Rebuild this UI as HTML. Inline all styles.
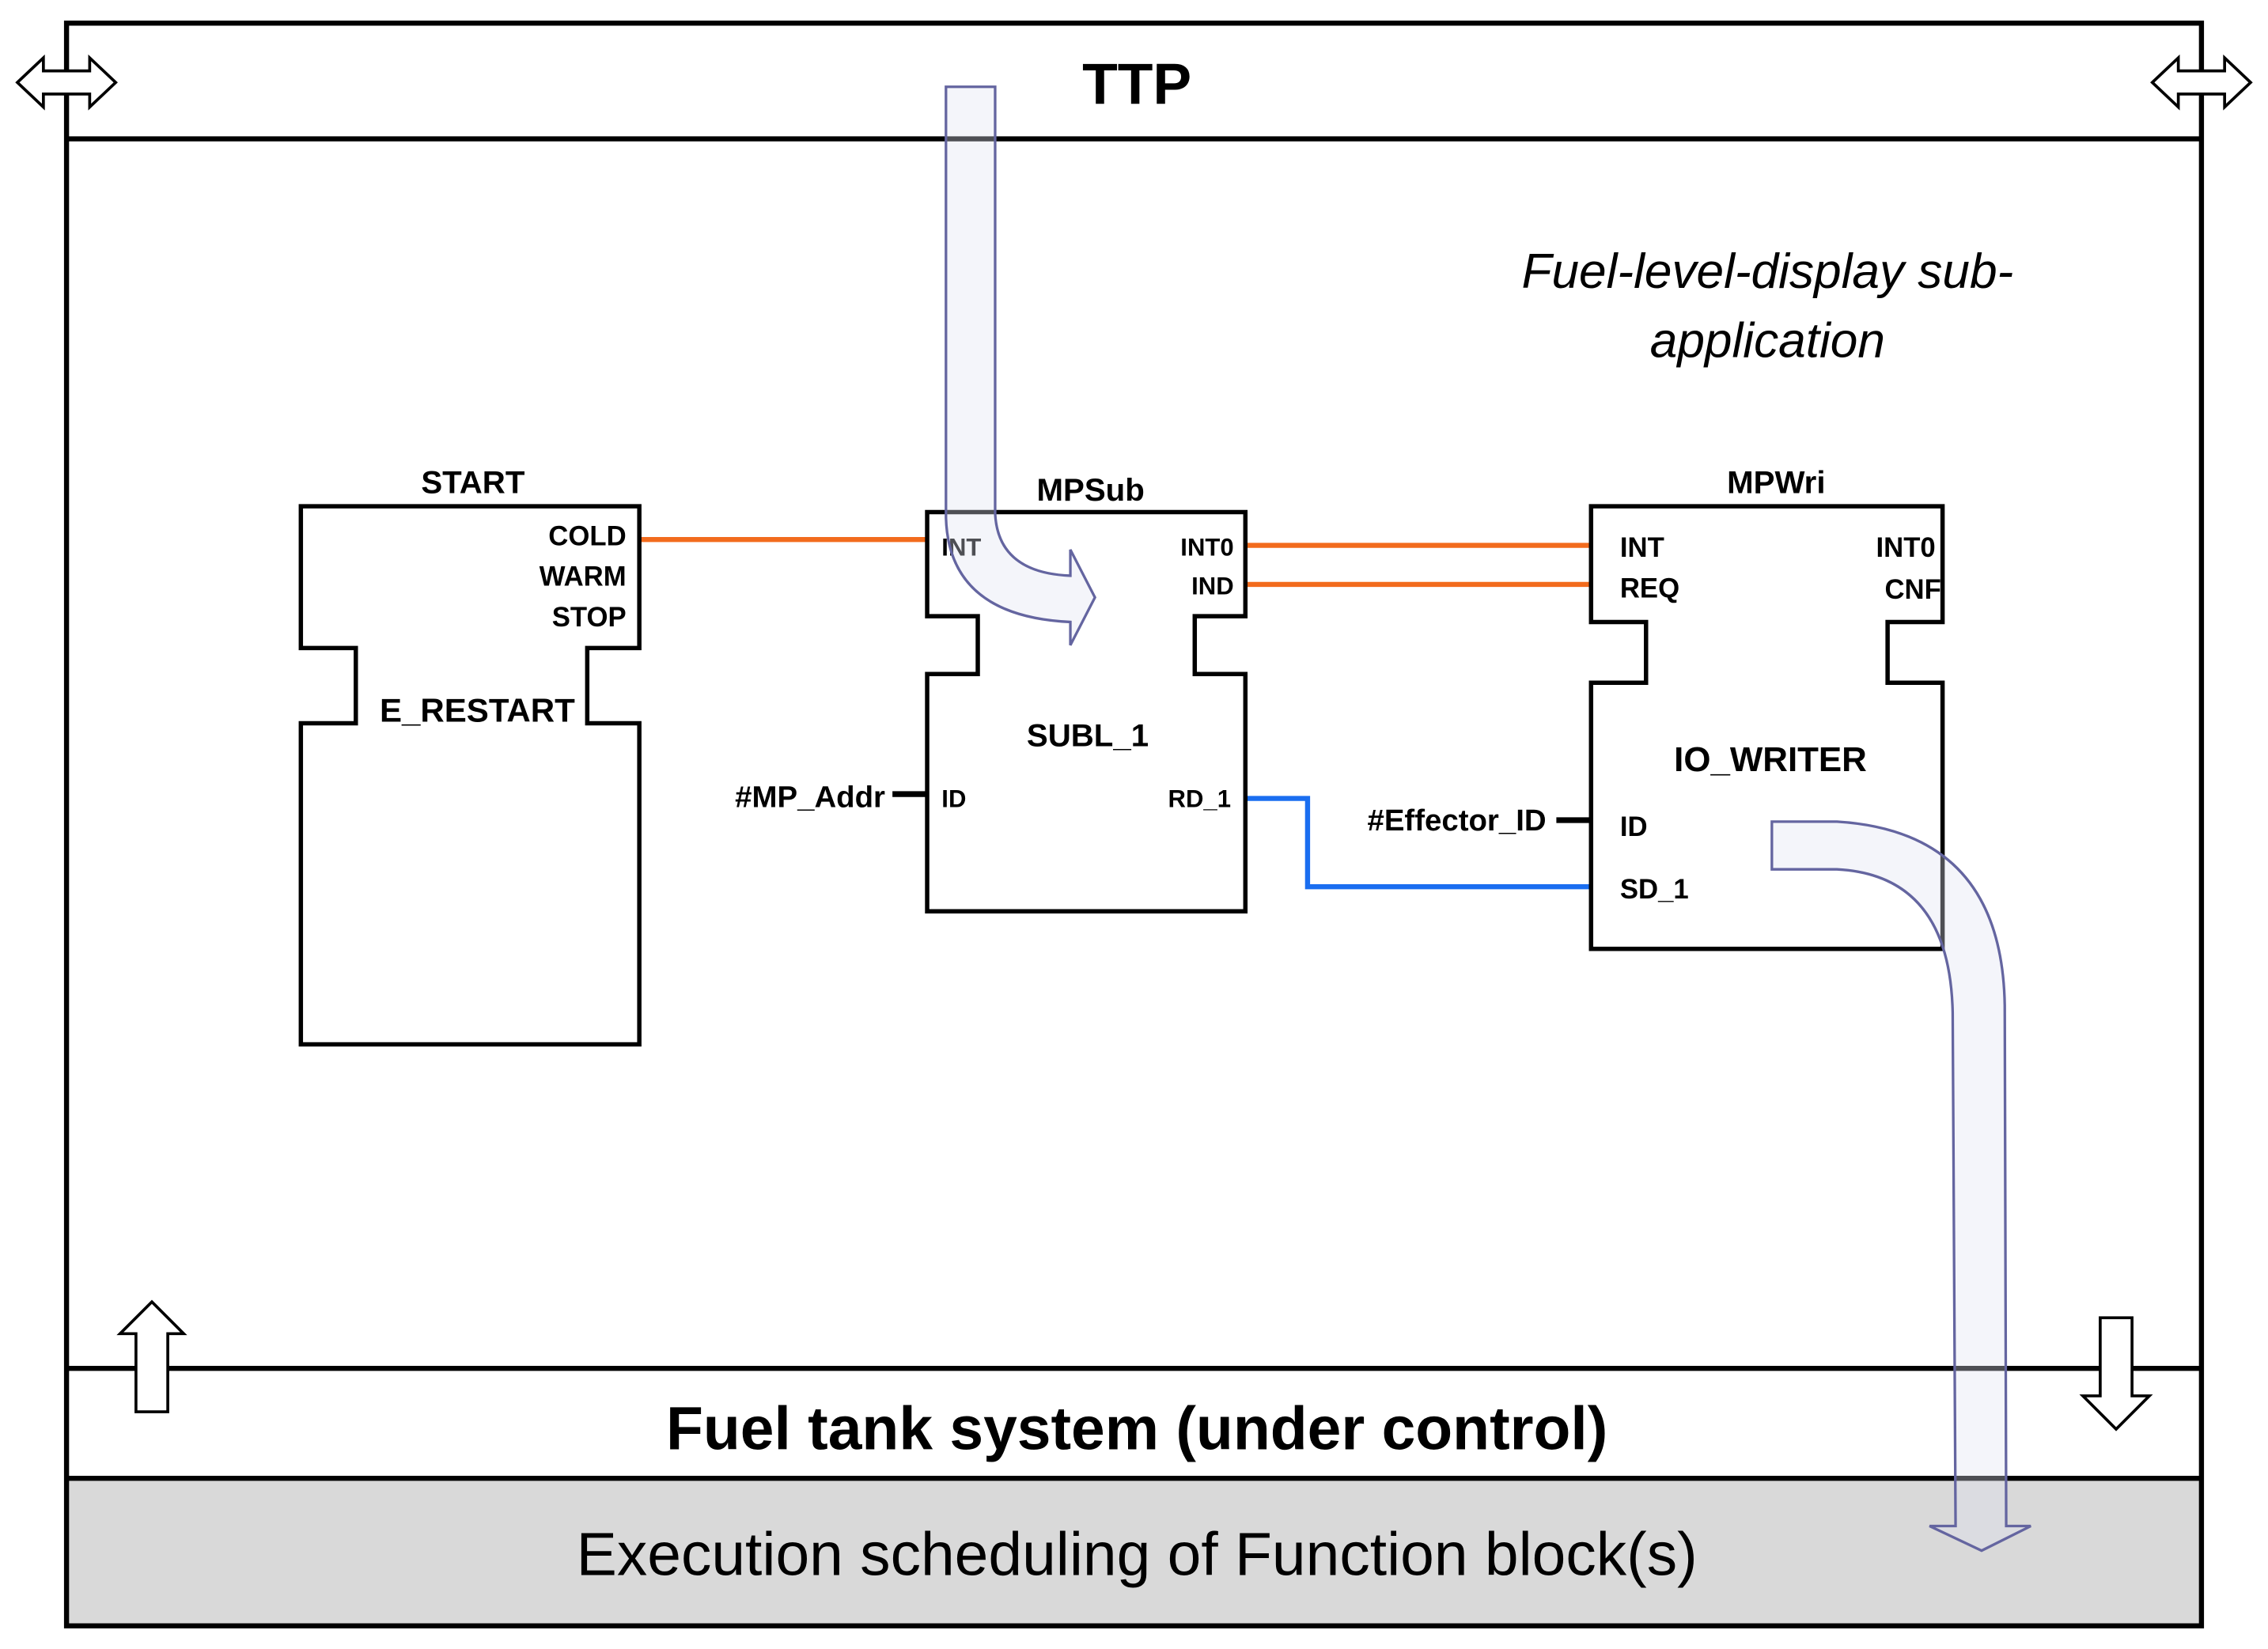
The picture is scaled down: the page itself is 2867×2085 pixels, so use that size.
<!DOCTYPE html>
<html><head><meta charset="utf-8"><style>
html,body{margin:0;padding:0;background:#fff}
svg{display:block}
text{font-family:"Liberation Sans",sans-serif;fill:#000}
</style></head><body>
<svg width="2867" height="2085" viewBox="0 0 1568 1140" preserveAspectRatio="none" xmlns="http://www.w3.org/2000/svg">
<rect x="46" y="1022" width="1476" height="102" fill="#d9d9d9"/>
<rect x="46" y="16" width="1476" height="1108" fill="none" stroke="#000" stroke-width="3.5"/>
<line x1="46" y1="96" x2="1522" y2="96" stroke="#000" stroke-width="3.5"/>
<line x1="46" y1="946" x2="1522" y2="946" stroke="#000" stroke-width="3.5"/>
<line x1="46" y1="1022" x2="1522" y2="1022" stroke="#000" stroke-width="3.5"/>
<!-- double arrows -->
<path d="M12,57 L30,40 L30,49 L62,49 L62,40 L80,57 L62,74 L62,65 L30,65 L30,74 Z" fill="#fff" stroke="#000" stroke-width="2"/>
<path d="M1488,57 L1506,40 L1506,49 L1538,49 L1538,40 L1556,57 L1538,74 L1538,65 L1506,65 L1506,74 Z" fill="#fff" stroke="#000" stroke-width="2"/>
<!-- up/down arrows -->
<path d="M105,900 L127,922 L116,922 L116,976 L94,976 L94,922 L83,922 Z" fill="#fff" stroke="#000" stroke-width="2"/>
<path d="M1452,911 L1474,911 L1474,965 L1486,965 L1463,988 L1440,965 L1452,965 Z" fill="#fff" stroke="#000" stroke-width="2"/>
<text x="786" y="72" font-size="40" font-weight="bold" text-anchor="middle">TTP</text>
<text x="1222" y="199" font-size="34" font-style="italic" text-anchor="middle">Fuel-level-display sub-</text>
<text x="1222" y="247" font-size="34" font-style="italic" text-anchor="middle">application</text>
<text x="786" y="1002" font-size="42" font-weight="bold" text-anchor="middle">Fuel tank system (under control)</text>
<text x="786" y="1089" font-size="42" text-anchor="middle">Execution scheduling of Function block(s)</text>
<!-- connections -->
<g stroke="#f26b1d" stroke-width="3.5" fill="none">
<line x1="442" y1="373" x2="641" y2="373"/>
<line x1="861" y1="377" x2="1100" y2="377"/>
<line x1="861" y1="404" x2="1100" y2="404"/>
</g>
<polyline points="861,552 904,552 904,613 1100,613" fill="none" stroke="#1a6ef0" stroke-width="3.5"/>
<line x1="617" y1="549" x2="641" y2="549" stroke="#000" stroke-width="4"/>
<line x1="1076" y1="567" x2="1100" y2="567" stroke="#000" stroke-width="4"/>
<!-- blocks -->
<g fill="none" stroke="#000" stroke-width="3">
<path d="M208,350 L442,350 L442,448 L406,448 L406,500 L442,500 L442,722 L208,722 L208,500 L246,500 L246,448 L208,448 Z"/>
<path d="M641,354 L861,354 L861,426 L826,426 L826,466 L861,466 L861,630 L641,630 L641,466 L676,466 L676,426 L641,426 Z"/>
<path d="M1100,350 L1343,350 L1343,430 L1305,430 L1305,472 L1343,472 L1343,656 L1100,656 L1100,472 L1138,472 L1138,430 L1100,430 Z"/>
</g>
<g font-weight="bold">
<text x="327" y="341" font-size="22" text-anchor="middle">START</text>
<text x="433" y="377" font-size="19" text-anchor="end">COLD</text>
<text x="433" y="405" font-size="19" text-anchor="end">WARM</text>
<text x="433" y="433" font-size="19" text-anchor="end">STOP</text>
<text x="330" y="499" font-size="23" text-anchor="middle">E_RESTART</text>
<text x="754" y="346" font-size="22" text-anchor="middle">MPSub</text>
<text x="651" y="384" font-size="17">INT</text>
<text x="853" y="384" font-size="17" text-anchor="end">INT0</text>
<text x="853" y="411" font-size="17" text-anchor="end">IND</text>
<text x="752" y="516" font-size="22" text-anchor="middle">SUBL_1</text>
<text x="651" y="558" font-size="17">ID</text>
<text x="851" y="558" font-size="17" text-anchor="end">RD_1</text>
<text x="612" y="558" font-size="21" text-anchor="end">#MP_Addr</text>
<text x="1228" y="341" font-size="22" text-anchor="middle">MPWri</text>
<text x="1120" y="385" font-size="19">INT</text>
<text x="1120" y="413" font-size="19">REQ</text>
<text x="1297" y="385" font-size="19">INT0</text>
<text x="1303" y="414" font-size="19">CNF</text>
<text x="1224" y="533" font-size="24" text-anchor="middle">IO_WRITER</text>
<text x="1120" y="578" font-size="19">ID</text>
<text x="1120" y="621" font-size="19">SD_1</text>
<text x="1069" y="574" font-size="21" text-anchor="end">#Effector_ID</text>
</g>
<!-- big flow arrows -->
<g fill="#dfe2f0" fill-opacity="0.35" stroke="#6465a0" stroke-width="1.8">
<path d="M654,60 L688,60 L688,355 Q690,396 740,398 L740,380 L757,413 L740,446 L740,430 Q656,426 654,358 Z"/>
<path d="M1225,568 L1270,568 Q1384,575 1386,695 L1387,1055 L1404,1055 L1370,1072 L1334,1055 L1352,1055 L1350,700 Q1348,605 1270,601 L1225,601 Z"/>
</g>
</svg>
</body></html>
